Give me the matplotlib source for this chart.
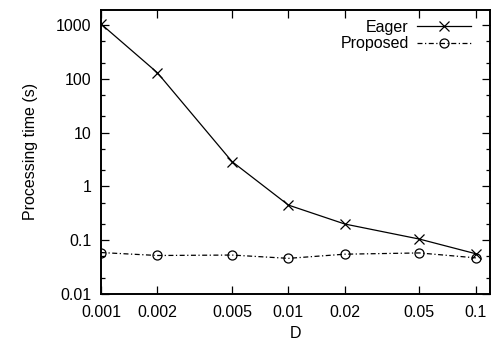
import matplotlib
matplotlib.use("Agg")
import matplotlib.pyplot as plt
from matplotlib.ticker import FixedLocator, FixedFormatter, NullLocator

plt.rcParams['font.family'] = ['Liberation Sans', 'DejaVu Sans']

D = [0.001, 0.002, 0.005, 0.01, 0.02, 0.05, 0.1]
x_labels = ["0.001", "0.002", "0.005", "0.01", "0.02", "0.05", "0.1"]
eager = [1050, 130, 2.9, 0.45, 0.2, 0.105, 0.056]
proposed = [0.059, 0.052, 0.053, 0.046, 0.055, 0.058, 0.047]
y_ticks = [0.01, 0.1, 1, 10, 100, 1000]
y_labels = ["0.01", "0.1", "1", "10", "100", "1000"]

fig = plt.figure(figsize=(4.92, 3.44), dpi=100)
ax = fig.add_axes([101/492, 1 - 294/344, (490-101)/492, (294-9.5)/344])

ax.plot(D, eager, color='black', lw=0.9, marker='x', ms=7, mew=0.9, label='Eager')
ax.plot(D, proposed, color='black', lw=0.9, dashes=(4, 2, 1, 2), marker='o', ms=6.5,
        mfc='none', mew=0.9, label='Proposed')

ax.set_xscale('log')
ax.set_yscale('log')
ax.set_xlim(0.001, 0.119)
ax.set_ylim(0.01, 1950)

ax.xaxis.set_major_locator(FixedLocator(D))
ax.xaxis.set_major_formatter(FixedFormatter(x_labels))
ax.xaxis.set_minor_locator(NullLocator())
ax.yaxis.set_major_locator(FixedLocator(y_ticks))
ax.yaxis.set_major_formatter(FixedFormatter(y_labels))
minor = [m * 10.0**e for e in range(-2, 4) for m in (2, 5)]
ax.yaxis.set_minor_locator(FixedLocator(minor))

ax.tick_params(which='both', direction='in', top=True, right=True, labelsize=11.5, width=0.9)
ax.tick_params(which='major', length=6)
ax.tick_params(axis='x', which='major', pad=8)
ax.tick_params(axis='y', which='major', pad=7)
ax.tick_params(which='minor', length=3)
for s in ax.spines.values():
    s.set_linewidth(1.4)

ax.set_xlabel('D', fontsize=11.5, labelpad=4)
ax.set_ylabel('Processing time (s)', fontsize=11.5, labelpad=13)

ax.legend(loc='upper right', frameon=False, markerfirst=False, fontsize=11.5,
          handlelength=3.4, handletextpad=0.5, labelspacing=0.1,
          borderaxespad=0.25, bbox_to_anchor=(0.978, 1.0))

fig.savefig('out.png', dpi=100)
